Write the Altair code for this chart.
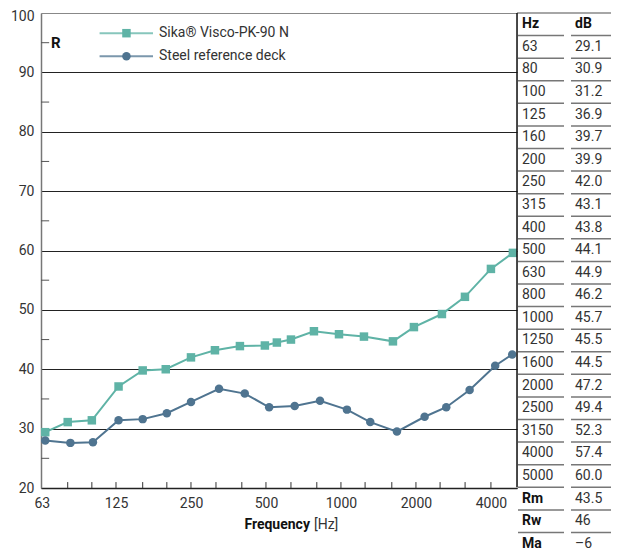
import altair as alt
import pandas as pd

# ---------------- data ----------------
series_names = ["Sika® Visco-PK-90 N", "Steel reference deck"]
series_colors = ["#5fb3a6", "#4f7490"]
series_shapes = ["square", "circle"]

sika_freq = [65, 80, 100, 128, 160, 198, 250, 312, 393, 495, 553, 630, 779,
             982, 1237, 1617, 1963, 2543, 3146, 4000, 4900]
sika_db = [29.4, 31.1, 31.4, 37.1, 39.8, 40.0, 42.0, 43.2, 43.9, 44.0, 44.5,
           45.0, 46.4, 45.9, 45.5, 44.7, 47.1, 49.3, 52.2, 56.9, 59.6]

steel_freq = [65, 82, 101, 128, 160, 200, 250, 324, 411, 515, 652, 824, 1057,
              1311, 1678, 2167, 2647, 3285, 4161, 4870]
steel_db = [28.0, 27.6, 27.7, 31.4, 31.6, 32.6, 34.5, 36.7, 35.9, 33.6, 33.8,
            34.7, 33.2, 31.1, 29.5, 32.0, 33.6, 36.5, 40.6, 42.5]

x_label_values = [63, 125, 250, 500, 1000, 2000, 4000]
x_minor_ticks = [80, 100, 125, 160, 200, 250, 315, 400, 500, 630, 800, 1000,
                 1250, 1600, 2000, 2500, 3150, 4000]
y_label_values = [20, 30, 40, 50, 60, 70, 80, 90, 100]
y_minor_ticks = [25, 35, 45, 55, 65, 75, 85, 95]

table_hz = ["63", "80", "100", "125", "160", "200", "250", "315", "400", "500",
            "630", "800", "1000", "1250", "1600", "2000", "2500", "3150",
            "4000", "5000"]
table_db = ["29.1", "30.9", "31.2", "36.9", "39.7", "39.9", "42.0", "43.1",
            "43.8", "44.1", "44.9", "46.2", "45.7", "45.5", "44.5", "47.2",
            "49.4", "52.3", "57.4", "60.0"]
summary_names = ["Rm", "Rw", "Ma"]
summary_values = ["43.5", "46", "–6"]
header_names = ["Hz", "dB"]

FONT = "Roboto"
TXT = "#333333"

# ---------------- tables ----------------
series_df = pd.DataFrame(
    {"freq": sika_freq + steel_freq,
     "db": sika_db + steel_db,
     "series": [series_names[0]] * len(sika_freq) + [series_names[1]] * len(steel_freq)}
)
legend_df = pd.DataFrame({"series": series_names, "idx": [0, 1]})

xtick_df = pd.DataFrame({"freq": x_minor_ticks})
ytick_df = pd.DataFrame({"db": y_minor_ticks})

ann_bold = pd.DataFrame({"text": ["Frequency"]})
ann_reg = pd.DataFrame({"text": ["[Hz]"]})
ann_r = pd.DataFrame({"text": ["R"]})

# table cells
cells = []
cells.append({"row": 0, "col": "Hz", "text": header_names[0], "bold": True})
cells.append({"row": 0, "col": "dB", "text": header_names[1], "bold": True})
for i, (h, d) in enumerate(zip(table_hz, table_db)):
    cells.append({"row": i + 1, "col": "Hz", "text": h, "bold": False})
    cells.append({"row": i + 1, "col": "dB", "text": d, "bold": False})
n0 = len(table_hz) + 1
for i, (n, v) in enumerate(zip(summary_names, summary_values)):
    cells.append({"row": n0 + i, "col": "Hz", "text": n, "bold": True})
    cells.append({"row": n0 + i, "col": "dB", "text": v, "bold": False})
cells_df = pd.DataFrame(cells)
n_rows = n0 + len(summary_names)  # 24 rows (0..23)

sep_df = pd.DataFrame({"sep": [r + 0.5 for r in range(n_rows - 1)]})
top_df = pd.DataFrame({"sep": [-0.5]})
vert_df = pd.DataFrame({"r0": [-0.5], "r1": [len(table_hz) + 0.5]})

# ---------------- main chart ----------------
XS = alt.Scale(type="log", domain=[62.5, 5090], nice=False)
YS = alt.Scale(domain=[20, 100], zero=False, nice=False)
X_MAIN = alt.X(
    "freq:Q", scale=XS,
    axis=alt.Axis(values=x_label_values, format="d", ticks=False, grid=False,
                  domainColor="#222222", domainWidth=1.5, labelFont=FONT,
                  labelFontSize=14, labelColor=TXT, labelPadding=8,
                  labelFlush=False, labelOverlap=False, title=None),
)
Y_MAIN = alt.Y(
    "db:Q", scale=YS,
    axis=alt.Axis(values=y_label_values, ticks=False, grid=True,
                  gridColor={"condition": {"test": "datum.value >= 100", "value": "#888888"},
                             "value": "#222222"},
                  gridWidth=1.2, domainColor="#777777", domainWidth=1.5,
                  labelFont=FONT, labelFontSize=14, labelColor=TXT,
                  labelOffset={"condition": {"test": "datum.value >= 100", "value": 3},
                               "value": 0},
                  labelPadding=7, title=None),
)
COLOR = alt.Color("series:N", scale=alt.Scale(domain=series_names, range=series_colors),
                  legend=None)
SHAPE = alt.Shape("series:N", scale=alt.Scale(domain=series_names, range=series_shapes),
                  legend=None)

lines = alt.Chart(series_df).mark_line(strokeWidth=2).encode(
    x=X_MAIN, y=Y_MAIN, color=COLOR, detail="series:N")
points = alt.Chart(series_df).mark_point(filled=True, size=72, opacity=1).encode(
    x=X_MAIN, y=Y_MAIN, color=COLOR, shape=SHAPE)

# legend drawn through the main scales
leg_base = alt.Chart(legend_df).transform_calculate(ldb="96.6 - datum.idx * 3.87")
leg_line = leg_base.mark_rule(strokeWidth=2, opacity=0.75).encode(
    x=alt.X(datum=107.4, scale=XS), x2=alt.datum(176.0),
    y=alt.Y("ldb:Q", scale=YS), color=COLOR)
leg_mark = leg_base.mark_point(filled=True, size=72, opacity=1).encode(
    x=alt.X(datum=137.7, scale=XS), y=alt.Y("ldb:Q", scale=YS), color=COLOR, shape=SHAPE)
leg_text = leg_base.mark_text(align="left", baseline="middle", font=FONT, fontSize=14,
                              color=TXT).encode(
    x=alt.X(datum=186.1, scale=XS), y=alt.Y("ldb:Q", scale=YS), text="series:N")

xticks = alt.Chart(xtick_df).mark_rule(color="#333333", strokeWidth=1).encode(
    x=X_MAIN, y=alt.Y(datum=20, scale=YS), y2=alt.datum(21))
yticks = alt.Chart(ytick_df).mark_rule(color="#555555", strokeWidth=1).encode(
    x=alt.X(datum=62.5, scale=XS), x2=alt.datum(67.4), y=Y_MAIN)

t_freq = alt.Chart(ann_bold).mark_text(align="right", baseline="middle", font=FONT,
                                       fontSize=14, fontWeight="bold", color="#111111").encode(
    x=alt.X(datum=751, scale=XS), y=alt.Y(datum=13.8, scale=YS), text="text:N")
t_hz = alt.Chart(ann_reg).mark_text(align="left", baseline="middle", font=FONT,
                                    fontSize=14, color=TXT).encode(
    x=alt.X(datum=779, scale=XS), y=alt.Y(datum=13.8, scale=YS), text="text:N")
t_r = alt.Chart(ann_r).mark_text(align="left", baseline="middle", font=FONT,
                                 fontSize=15, fontWeight="bold", color="#111111").encode(
    x=alt.X(datum=68.6, scale=XS), y=alt.Y(datum=95, scale=YS), text="text:N")

main = alt.layer(lines, points, yticks, xticks, leg_line, leg_mark, leg_text,
                 t_freq, t_hz, t_r)

# ---------------- side table ----------------
ROW = alt.Scale(domain=[0, n_rows - 1], range=[11.3, 11.3 + (n_rows - 1) * 22.585],
                zero=False, nice=False)
COL = alt.Scale(type="point", domain=header_names, range=[481, 534], padding=0)

txt_reg = alt.Chart(cells_df).transform_filter("!datum.bold").mark_text(
    align="left", baseline="middle", font=FONT, fontSize=14, color=TXT).encode(
    x=alt.X("col:N", scale=COL, axis=None),
    y=alt.Y("row:Q", scale=ROW, axis=None), text="text:N")
txt_bold = alt.Chart(cells_df).transform_filter("datum.bold").mark_text(
    align="left", baseline="middle", font=FONT, fontSize=14, fontWeight="bold",
    color="#111111").encode(
    x=alt.X("col:N", scale=COL, axis=None),
    y=alt.Y("row:Q", scale=ROW, axis=None), text="text:N")

sep_hz = alt.Chart(sep_df).mark_rule(color="#777777", strokeWidth=1.5).encode(
    x=alt.value(477), x2=alt.value(523), y=alt.Y("sep:Q", scale=ROW, axis=None))
sep_db = alt.Chart(sep_df).mark_rule(color="#777777", strokeWidth=1.5).encode(
    x=alt.value(530), x2=alt.value(570), y=alt.Y("sep:Q", scale=ROW, axis=None))
top_rule = alt.Chart(top_df).mark_rule(color="#888888", strokeWidth=1.5).encode(
    x=alt.value(476), x2=alt.value(570), y=alt.Y("sep:Q", scale=ROW, axis=None))
vert_rule = alt.Chart(vert_df).mark_rule(color="#111111", strokeWidth=1.5).encode(
    x=alt.value(476), y=alt.Y("r0:Q", scale=ROW, axis=None), y2="r1:Q")

table = alt.layer(sep_hz, sep_db, top_rule, vert_rule, txt_reg, txt_bold)

chart = alt.layer(main, table).resolve_scale(
    x="independent", y="independent"
).properties(
    width=476, height=475,
    autosize=alt.AutoSizeParams(type="none"),
    padding={"left": 33, "top": 5, "right": 94, "bottom": 68},
).configure_view(strokeWidth=0).configure(background="white")

chart.save("out.html", embed_options={"renderer": "svg", "actions": False})
